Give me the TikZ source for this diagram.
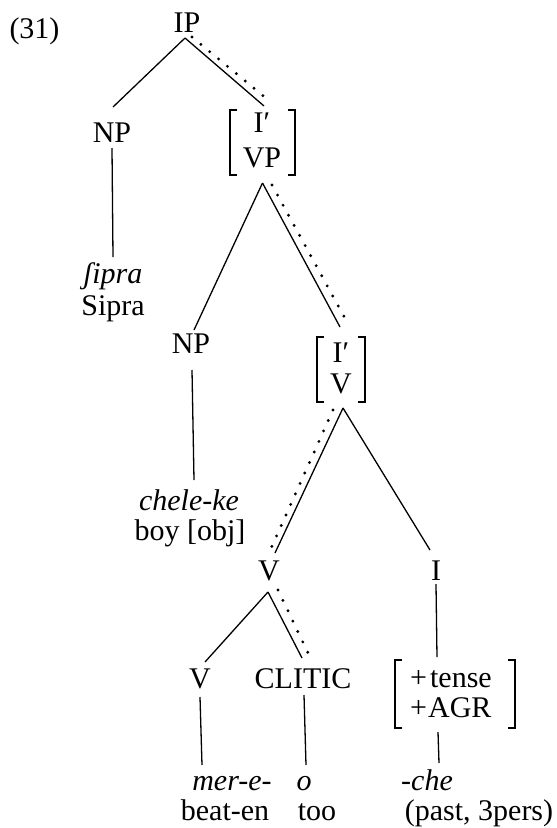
\documentclass[tikz,border=0pt]{standalone}
\usepackage{fontspec}
\setmainfont{Liberation Serif}
\begin{document}
\begin{tikzpicture}[x=1pt,y=-1pt,
  lab/.style={inner sep=0pt,anchor=base,font=\fontsize{30}{34}\selectfont},
  ital/.style={lab,font=\fontsize{30}{34}\selectfont\itshape},
  brkbox/.style={inner sep=0pt,outer sep=0pt},
  branch/.style={line width=1.3pt},
  dots/.style={line width=3.2pt,line cap=round,dash pattern=on 0pt off 11.5pt},
  brk/.style={line width=1.4pt}]
\useasboundingbox (0,0) rectangle (557,828);

% labels
\node[lab] (n31) at (34.5,38) {(31)};
\node[lab] (IP) at (187,32) {IP};
\node[lab] (NP1) at (112,142) {NP};
\node[lab] (I1) at (262,132) {I′};
\node[lab] (VP1) at (262,167) {VP};
\node[brkbox,minimum width=65pt,minimum height=65pt] (ivp) at (262.5,142.5) {};
\node[ital] (esh) at (113,283) {ʃipra};
\node[lab] (sipra) at (113,315) {Sipra};
\node[lab] (NP2) at (191,353) {NP};
\node[lab] (I2) at (341,362) {I′};
\node[lab] (V2) at (341,393) {V};
\node[brkbox,minimum width=48pt,minimum height=65pt] (iv) at (341,369.5) {};
\node[ital] (chele) at (189,510) {chele-ke};
\node[lab] (boy) at (190,540) {boy [obj]};
\node[lab] (Vm) at (269,580) {V};
\node[lab] (Im) at (436,580) {I};
\node[lab] (Vl) at (200,688) {V};
\node[lab] (clitic) at (303,688) {CLITIC};
\node[lab,anchor=base west] (tense) at (410,687) {+\kern3pt tense};
\node[lab,anchor=base west] (agr) at (410,717) {+\kern1pt AGR};
\node[brkbox,minimum width=120pt,minimum height=68pt] (tb) at (455,694) {};
\node[ital] (mer) at (232,790) {mer-e-};
\node[ital] (o) at (304,790) {o};
\node[ital] (che) at (427,790) {-che};
\node[lab] (beat) at (225,820) {beat-en};
\node[lab] (too) at (317,820) {too};
\node[lab] (past) at (479,820) {(past, 3pers)};

% brackets
\foreach \b in {ivp,iv,tb}{
  \draw[brk] ([xshift=7pt]\b.north west) -- (\b.north west) -- (\b.south west) -- ([xshift=7pt]\b.south west);
  \draw[brk] ([xshift=-7pt]\b.north east) -- (\b.north east) -- (\b.south east) -- ([xshift=-7pt]\b.south east);
}

% branches
\draw[branch] ([shift={(-2pt,-6pt)}]IP.base) -- ([shift={(1pt,35pt)}]NP1.base);
\draw[branch] ([shift={(-2pt,-6pt)}]IP.base) -- ([shift={(1.5pt,4pt)}]ivp.north);
\draw[dots] ([shift={(5pt,-5pt)}]IP.base) -- ([shift={(4.5pt,11pt)}]ivp.north);
\draw[branch] ([yshift=-6pt]NP1.base) -- ([yshift=26pt]esh.base);
\draw[branch] ([yshift=-8pt]ivp.south) -- ([shift={(3pt,23pt)}]NP2.base);
\draw[branch] ([yshift=-8pt]ivp.south) -- ([shift={(-1pt,10pt)}]iv.north);
\draw[dots] ([shift={(9.5pt,-10pt)}]ivp.south) -- ([shift={(6pt,15pt)}]iv.north);
\draw[branch] ([shift={(1pt,-17pt)}]NP2.base) -- ([shift={(5pt,30pt)}]chele.base);
\draw[branch] ([shift={(2pt,-6pt)}]iv.south) -- ([shift={(6pt,27pt)}]Vm.base);
\draw[dots] ([shift={(-8pt,-8pt)}]iv.south) -- ([shift={(-1pt,25pt)}]Vm.base);
\draw[branch] ([shift={(2pt,-6pt)}]iv.south) -- ([shift={(-6pt,30pt)}]Im.base);
\draw[branch] ([shift={(-1pt,-12pt)}]Vm.base) -- ([shift={(5pt,26pt)}]Vl.base);
\draw[branch] ([shift={(-1pt,-12pt)}]Vm.base) -- ([shift={(-1pt,30pt)}]clitic.base);
\draw[dots] ([shift={(9pt,-10pt)}]Vm.base) -- ([shift={(7pt,31pt)}]clitic.base);
\draw[branch] ([yshift=-4pt]Im.base) -- ([shift={(-18pt,3pt)}]tb.north);
\draw[branch] ([yshift=-9pt]Vl.base) -- ([shift={(-30pt,25pt)}]mer.base);
\draw[branch] ([shift={(1pt,-7pt)}]clitic.base) -- ([shift={(2pt,25pt)}]o.base);
\draw[branch] ([shift={(-17pt,-4pt)}]tb.south) -- ([shift={(12pt,27pt)}]che.base);
\end{tikzpicture}
\end{document}
